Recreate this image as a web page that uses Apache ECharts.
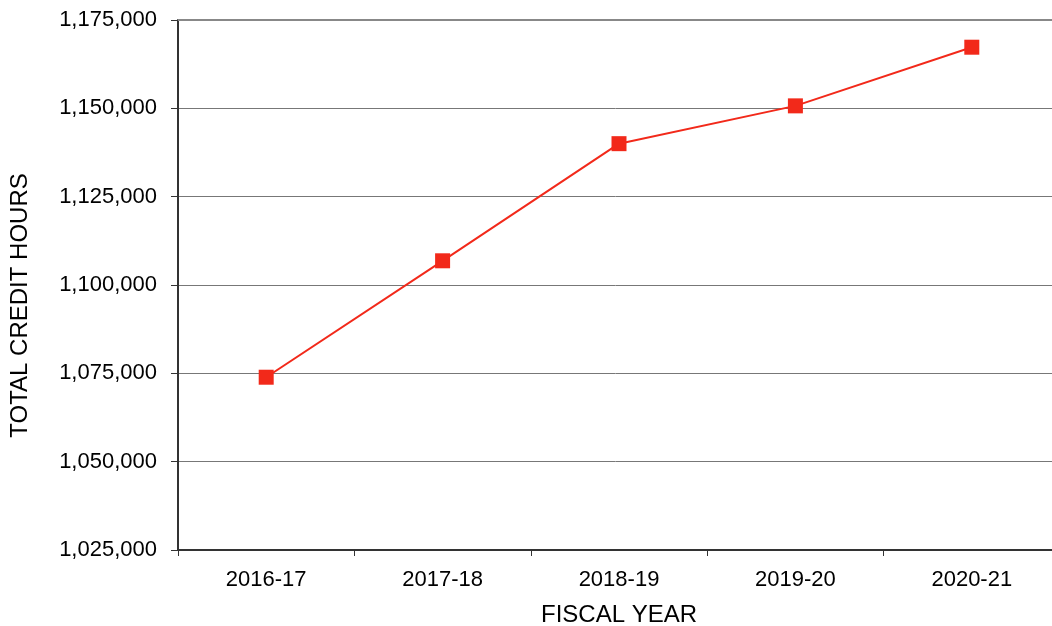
<!DOCTYPE html>
<html>
<head>
<meta charset="utf-8">
<script src="https://cdn.jsdelivr.net/npm/echarts@6/dist/echarts.min.js"></script>
<style>
  html, body { margin: 0; padding: 0; background: #fff; }
  #chart { width: 1052px; height: 626px; }
</style>
</head>
<body>
<div id="chart"></div>
<script>
// Total credit hours by fiscal year
const fiscalYears = ['2016-17', '2017-18', '2018-19', '2019-20', '2020-21'];
const creditHours = [1073900, 1106850, 1140000, 1150700, 1167300];

const yMin = 1025000;
const yMax = 1175000;
const yStep = 25000;

const fontFamily = '"Liberation Sans", Arial, sans-serif';
const fmt = v => v.toLocaleString('en-US');

const chart = echarts.init(document.getElementById('chart'), null, { renderer: 'canvas' });

chart.setOption({
  animation: false,
  backgroundColor: '#ffffff',
  grid: {
    left: 178, right: -8, top: 20, bottom: 76,
    containLabel: false,
    outerBoundsMode: 'none'
  },
  xAxis: {
    type: 'category',
    data: fiscalYears,
    boundaryGap: true,
    name: 'FISCAL YEAR',
    nameLocation: 'middle',
    nameGap: 53,
    nameTextStyle: { fontFamily, fontSize: 24, color: '#000' },
    axisLine: { lineStyle: { color: '#333', width: 2 } },
    axisTick: { show: true, alignWithLabel: false, length: 6, lineStyle: { color: '#333', width: 1 } },
    axisLabel: { fontFamily, fontSize: 22, color: '#000', margin: 19 },
    splitLine: { show: false }
  },
  yAxis: {
    type: 'value',
    min: yMin,
    max: yMax,
    interval: yStep,
    name: 'TOTAL CREDIT HOURS',
    nameLocation: 'middle',
    nameGap: 146,
    nameRotate: 90,
    nameTextStyle: { fontFamily, fontSize: 24, color: '#000', padding: [0, 41, 0, 0] },
    axisLine: { show: true, lineStyle: { color: '#333', width: 2 } },
    axisTick: { show: true, length: 7, lineStyle: { color: '#333', width: 1 } },
    axisLabel: { fontFamily, fontSize: 22, color: '#000', margin: 21, formatter: fmt },
    splitLine: { show: true, lineStyle: { color: '#777', width: 1 } }
  },
  series: [{
    type: 'line',
    data: creditHours,
    symbol: 'rect',
    symbolSize: 15,
    lineStyle: { color: '#f2291a', width: 2 },
    itemStyle: { color: '#f2291a' },
    z: 5,
    // heavier top border of the plot area
    markLine: {
      silent: true,
      symbol: 'none',
      label: { show: false },
      lineStyle: { color: '#888', width: 2, type: 'solid' },
      data: [{ yAxis: yMax }],
      z: 1
    }
  }]
});
</script>
</body>
</html>
